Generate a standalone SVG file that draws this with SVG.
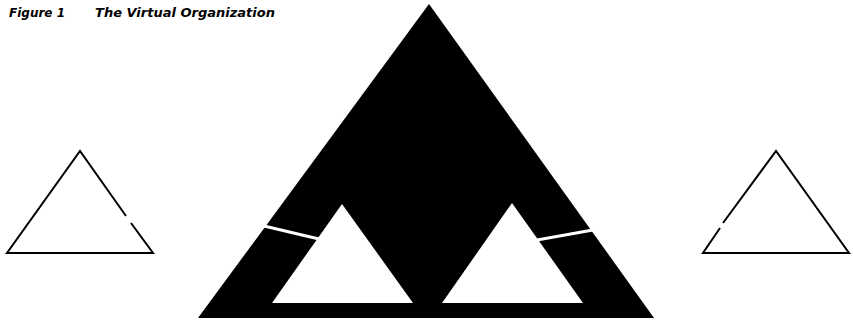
<svg xmlns="http://www.w3.org/2000/svg" width="853" height="321" viewBox="0 0 853 321">
<style>
.title{font-family:"DejaVu Sans","Open Sans",sans-serif;font-style:italic;font-weight:bold;font-size:11.5px;fill:#000}
.outline{fill:none;stroke:#000;stroke-width:2;stroke-linejoin:miter}
.solid{fill:#000}
.hole{fill:#fff}
.gap{stroke:#fff;stroke-width:3;fill:none}
</style>
<rect width="853" height="321" fill="#fff"/>
<text class="title" x="9" y="17" textLength="56" lengthAdjust="spacingAndGlyphs">Figure 1</text>
<text class="title" x="95" y="17" textLength="180" lengthAdjust="spacingAndGlyphs">The Virtual Organization</text>
<g id="big-triangle">
<polygon class="solid" points="429,4 654,318 198,318"/>
<polygon class="hole" points="342,204 413,303 272,303"/>
<polygon class="hole" points="512,203 583,303 442,303"/>
</g>
<g id="left-triangle">
<polyline class="outline" points="126,216 80,151 7,253 153,253 131,223"/>
</g>
<g id="right-triangle">
<polyline class="outline" points="720,228 703,253 849,253 776,151 723,223"/>
</g>
<g id="connectors">
<line class="gap" x1="264" y1="226" x2="319" y2="239"/>
<line class="gap" x1="537" y1="240" x2="593" y2="230"/>
</g>
</svg>
